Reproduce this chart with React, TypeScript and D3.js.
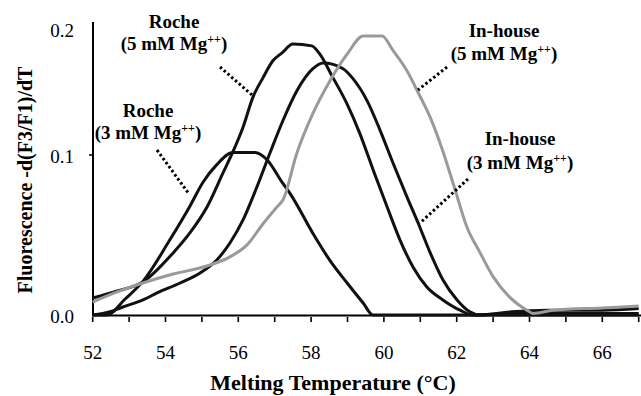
import React from "react";
import * as d3 from "d3";

// melting temperature (°C), -d(F3/F1)/dT
const rocheMg3: [number, number][] = [
  [52.0, 0], [52.39, 0], [52.89, 0.01], [53.38, 0.021], [54.12, 0.047], [54.67, 0.068],
  [55.03, 0.083], [55.41, 0.094], [55.85, 0.102], [56.46, 0.102], [56.79, 0.097],
  [57.2, 0.083], [57.42, 0.076], [58.05, 0.051], [58.52, 0.034], [58.99, 0.02],
  [59.43, 0.0075], [59.7, 0], [61, 0], [63, 0], [65, 0], [67, 0],
];

const rocheMg5: [number, number][] = [
  [52, 0.0106], [52.67, 0.015], [53.38, 0.0206], [54.21, 0.0388], [54.67, 0.0513],
  [55.14, 0.0675], [55.58, 0.0888], [55.85, 0.1024], [56.13, 0.122], [56.4, 0.1457],
  [56.68, 0.1614], [56.95, 0.1748], [57.2, 0.181], [57.5, 0.188], [58.02, 0.1866],
  [58.24, 0.18], [58.6, 0.1614], [58.98, 0.141], [59.34, 0.117], [59.7, 0.091],
  [60.09, 0.0675], [60.44, 0.047], [60.8, 0.03], [61.18, 0.0175], [61.62, 0.0094],
  [62.09, 0.003], [62.45, 0], [63.5, 0.001], [65, 0.001], [67, 0.001],
];

const inhouseMg3: [number, number][] = [
  [52, 0], [52.48, 0.002], [52.83, 0.005], [53.38, 0.0094], [53.77, 0.0138], [54.4, 0.02],
  [54.95, 0.0263], [55.41, 0.0344], [55.77, 0.045], [56.13, 0.0594], [56.51, 0.08],
  [56.87, 0.1016], [57.23, 0.1276], [57.61, 0.151], [58.05, 0.1685], [58.33, 0.173],
  [58.88, 0.1685], [59.15, 0.1606], [59.54, 0.143], [59.89, 0.12], [60.25, 0.095],
  [60.63, 0.074], [60.94, 0.0575], [61.27, 0.039], [61.62, 0.022], [62.01, 0.0094],
  [62.36, 0.002], [62.64, 0], [63.5, 0.002], [64.5, 0.003], [66, 0.003], [67, 0.004],
];

const inhouseMg5: [number, number][] = [
  [52, 0.0081], [52.67, 0.0144], [53.38, 0.02], [54.21, 0.0256], [55.14, 0.0306],
  [55.77, 0.0363], [56.24, 0.0438], [56.68, 0.057], [57.06, 0.0675], [57.23, 0.072],
  [57.61, 0.1016], [58.05, 0.133], [58.52, 0.159], [58.99, 0.18], [59.43, 0.1945],
  [59.95, 0.1945], [60.25, 0.183], [60.63, 0.167], [60.94, 0.1496], [61.27, 0.13],
  [61.62, 0.103], [61.96, 0.078], [62.28, 0.055], [62.64, 0.039], [63.0, 0.024],
  [63.46, 0.011], [63.93, 0.003], [64.1, 0.001], [64.65, 0.003], [66.0, 0.0044], [67, 0.0056],
];

const xTicks = d3.range(52, 68, 1);
const xLabels = [52, 54, 56, 58, 60, 62, 64, 66];
const yLabels = [0, 0.1, 0.2];

const series = [
  { name: "Roche (3 mM)", data: rocheMg3, color: "#111" },
  { name: "Roche (5 mM)", data: rocheMg5, color: "#111" },
  { name: "In-house (3 mM)", data: inhouseMg3, color: "#111" },
  { name: "In-house (5 mM)", data: inhouseMg5, color: "#9a9a9a" },
];

// annotation labels (pixel layout)
const notes = [
  { title: "Roche", mg: "5", x: 174, y1: 28, y2: 50, lead: [220, 67, 252, 95] },
  { title: "Roche", mg: "3", x: 148, y1: 117, y2: 139, lead: [157, 150, 189, 194] },
  { title: "In-house", mg: "5", x: 504, y1: 37, y2: 60, lead: [447, 67, 418, 90] },
  { title: "In-house", mg: "3", x: 520, y1: 145, y2: 169, lead: [468, 179, 420, 223] },
];

const font = '"Times New Roman", Times, "Liberation Serif", "DejaVu Serif", "Noto Serif", serif';

export default function App() {
  const width = 641;
  const height = 396;

  const x = d3.scaleLinear().domain([52, 67]).range([92.7, 638.7]);
  // scanned figure: tick spacing is uneven, kept as a piecewise scale
  const y = d3.scaleLinear().domain([0, 0.1, 0.2]).range([315, 155, 29]);

  const line = d3
    .line<[number, number]>()
    .x((d) => x(d[0]))
    .y((d) => y(d[1]))
    .curve(d3.curveMonotoneX);

  return (
    <svg
      width={width}
      height={height}
      style={{ position: "absolute", left: 0, top: 0, background: "#fff" }}
    >
      <rect width={width} height={height} fill="#fff" />
      <g style={{ fontFamily: font }}>
        {/* axes */}
        <line x1={93} x2={93} y1={22} y2={316} stroke="#000" strokeWidth={2} />
        <line x1={92} x2={641} y1={315.5} y2={315.5} stroke="#000" strokeWidth={2} />
        <line x1={89} x2={93} y1={y(0.1)} y2={y(0.1)} stroke="#000" strokeWidth={1.5} />
        {xTicks.map((t) => (
          <line key={t} x1={x(t)} x2={x(t)} y1={317} y2={322} stroke="#000" strokeWidth={1.6} />
        ))}
        {xLabels.map((t) => (
          <text key={t} x={x(t)} y={359} textAnchor="middle" fontSize={19}>
            {t}
          </text>
        ))}
        {yLabels.map((v) => (
          <text key={v} x={74} y={y(v) + 8} textAnchor="end" fontSize={19}>
            {v.toFixed(1)}
          </text>
        ))}

        <text x={333} y={390} textAnchor="middle" fontSize={22} fontWeight="bold">
          Melting Temperature (°C)
        </text>
        <text
          transform="translate(32,180) rotate(-90)"
          textAnchor="middle"
          fontSize={20}
          fontWeight="bold"
        >
          Fluorescence -d(F3/F1)/dT
        </text>

        {/* curves */}
        {series.map((s) => (
          <path
            key={s.name}
            d={line(s.data) ?? ""}
            fill="none"
            stroke={s.color}
            strokeWidth={3}
            strokeLinejoin="round"
          />
        ))}

        {/* annotations */}
        {notes.map((n, i) => (
          <g key={i} fontWeight="bold" fontSize={19} textAnchor="middle">
            <line
              x1={n.lead[0]}
              y1={n.lead[1]}
              x2={n.lead[2]}
              y2={n.lead[3]}
              stroke="#000"
              strokeWidth={3}
              strokeDasharray="2.5,2.5"
            />
            <text x={n.x} y={n.y1}>
              {n.title}
            </text>
            <text x={n.x} y={n.y2}>
              ({n.mg} mM Mg
              <tspan dy={-7} fontSize={12}>
                ++
              </tspan>
              <tspan dy={7}>)</tspan>
            </text>
          </g>
        ))}
      </g>
    </svg>
  );
}
